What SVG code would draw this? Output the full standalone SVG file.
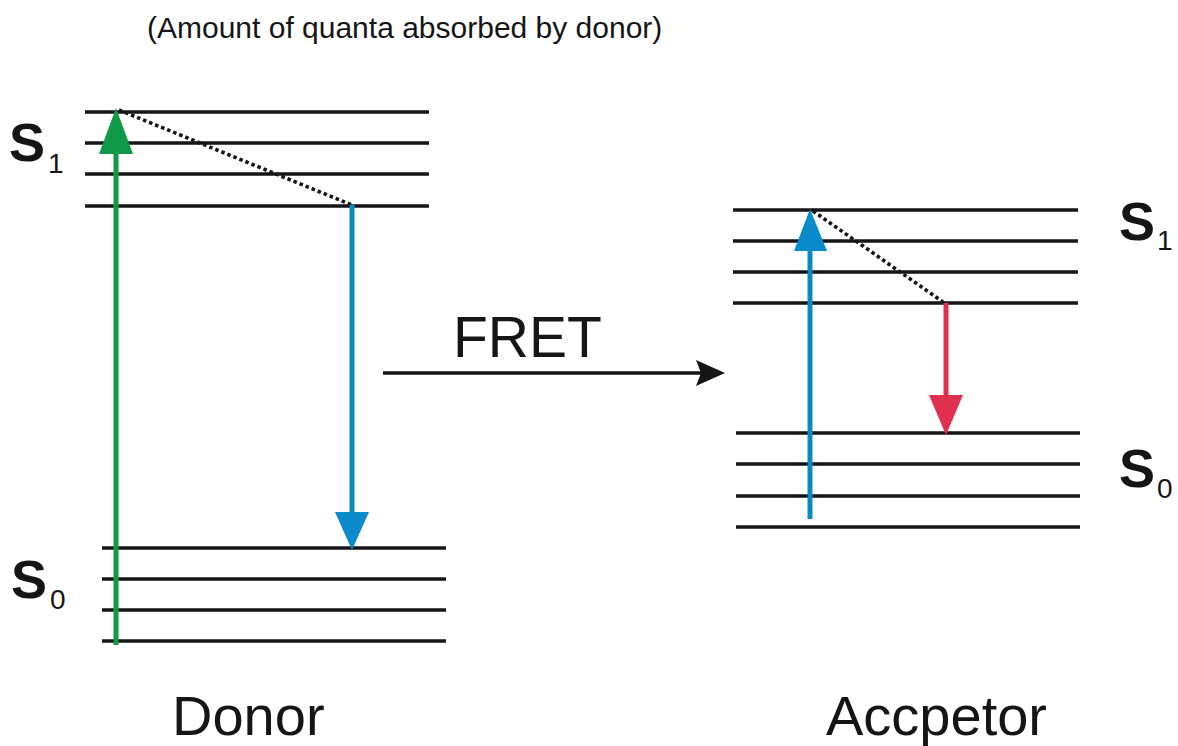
<svg xmlns="http://www.w3.org/2000/svg" width="1178" height="746" viewBox="0 0 1178 746">
<style>
.lvl{stroke:#151515;stroke-width:3.6;fill:none}
.dot{stroke:#151515;stroke-width:3.6;stroke-dasharray:3.5 3;fill:none}
.t{font-family:"Liberation Sans",Arial,sans-serif;fill:#151515}
.sb{font-family:"Liberation Sans",Arial,sans-serif;font-weight:bold;fill:#151515}
</style>
<rect width="1178" height="746" fill="#ffffff"/>
<text class="t" x="147" y="38" font-size="30">(Amount of quanta absorbed by donor)</text>

<g id="donor">
  <g id="donor-s1">
    <line class="lvl" x1="85" y1="112" x2="429" y2="112"/>
    <line class="lvl" x1="85" y1="143" x2="429" y2="143"/>
    <line class="lvl" x1="85" y1="174" x2="429" y2="174"/>
    <line class="lvl" x1="85" y1="206" x2="429" y2="206"/>
    <text class="sb" x="9" y="161" font-size="54">S</text>
    <text class="t" x="48" y="173" font-size="28">1</text>
  </g>
  <g id="donor-s0">
    <line class="lvl" x1="102" y1="548" x2="446" y2="548"/>
    <line class="lvl" x1="102" y1="579" x2="446" y2="579"/>
    <line class="lvl" x1="102" y1="610" x2="446" y2="610"/>
    <line class="lvl" x1="102" y1="641" x2="446" y2="641"/>
    <text class="sb" x="11" y="598" font-size="54">S</text>
    <text class="t" x="50" y="609" font-size="28">0</text>
  </g>
  <text class="t" x="172" y="735" font-size="56">Donor</text>
</g>

<g id="acceptor">
  <g id="acceptor-s1">
    <line class="lvl" x1="733" y1="210" x2="1078" y2="210"/>
    <line class="lvl" x1="733" y1="241" x2="1078" y2="241"/>
    <line class="lvl" x1="733" y1="272" x2="1078" y2="272"/>
    <line class="lvl" x1="733" y1="303" x2="1078" y2="303"/>
    <text class="sb" x="1119" y="240" font-size="54">S</text>
    <text class="t" x="1157" y="250" font-size="28">1</text>
  </g>
  <g id="acceptor-s0">
    <line class="lvl" x1="736" y1="433" x2="1080" y2="433"/>
    <line class="lvl" x1="736" y1="464" x2="1080" y2="464"/>
    <line class="lvl" x1="736" y1="496" x2="1080" y2="496"/>
    <line class="lvl" x1="736" y1="527" x2="1080" y2="527"/>
    <text class="sb" x="1119" y="487" font-size="54">S</text>
    <text class="t" x="1157" y="498" font-size="28">0</text>
  </g>
  <text class="t" x="826" y="735" font-size="56">Accpetor</text>
</g>

<g id="connectors">
  <line x1="116" y1="645" x2="116" y2="150" stroke="#109a48" stroke-width="5"/>
  <polygon points="116,108 99,154 133,154" fill="#109a48"/>
  <line class="dot" x1="119" y1="110" x2="352" y2="205"/>
  <line x1="352" y1="205" x2="352" y2="515" stroke="#0a8acb" stroke-width="5"/>
  <polygon points="335,512 369,512 352,550" fill="#0a8acb"/>

  <line x1="383" y1="373" x2="702" y2="373" stroke="#151515" stroke-width="3.6"/>
  <polygon points="696,360 725,373 696,386 701,373" fill="#151515"/>
  <text class="t" x="453" y="357" font-size="57">FRET</text>

  <line x1="810" y1="519" x2="810" y2="248" stroke="#0a8acb" stroke-width="5"/>
  <polygon points="810,209 794,251 827,251" fill="#0a8acb"/>
  <line class="dot" x1="813" y1="211" x2="943" y2="302"/>
  <line x1="946" y1="303" x2="946" y2="398" stroke="#e1304f" stroke-width="5"/>
  <polygon points="929,395 963,395 946,435" fill="#e1304f"/>
</g>
</svg>
